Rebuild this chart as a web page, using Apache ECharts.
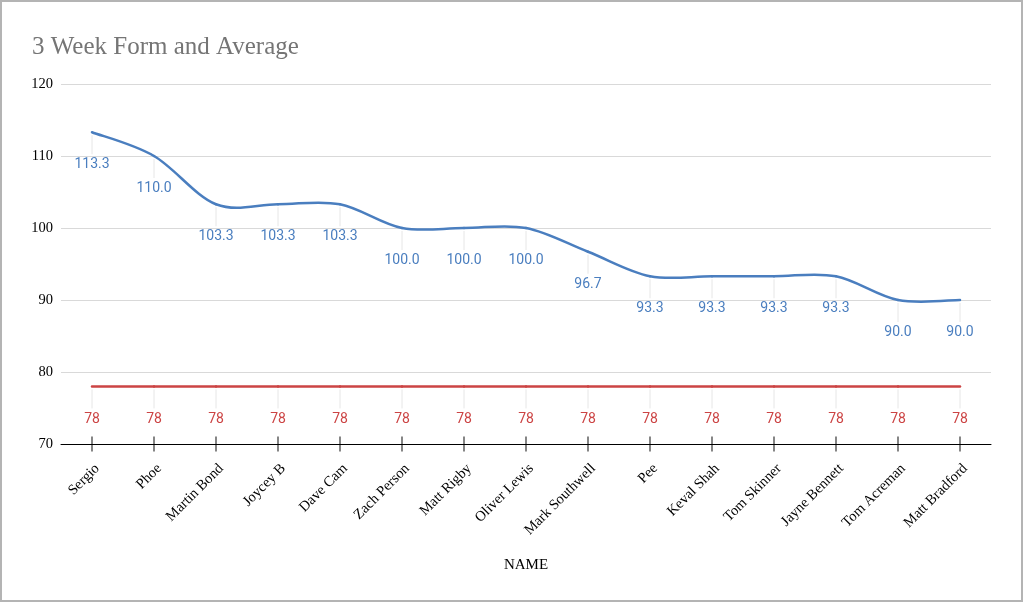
<!DOCTYPE html>
<html>
<head>
<meta charset="utf-8">
<script src="https://cdn.jsdelivr.net/npm/echarts@6/dist/echarts.min.js"></script>
<style>
html,body{margin:0;padding:0;background:#fff;}
#c{width:1024px;height:603px;}
</style>
</head>
<body>
<div id="c"></div>
<script>
const categories = ["Sergio","Phoe","Martin Bond","Joycey B","Dave Cam","Zach Person","Matt Rigby","Oliver Lewis","Mark Southwell","Pee","Keval Shah","Tom Skinner","Jayne Bennett","Tom Acreman","Matt Bradford"];
const formValues = [113.3,110.0,103.3,103.3,103.3,100.0,100.0,100.0,96.7,93.3,93.3,93.3,93.3,90.0,90.0];
const averageValues = [78,78,78,78,78,78,78,78,78,78,78,78,78,78,78];
const yTicks = {min:70, max:120, interval:10};

const blue = '#4a7ebf';
const red = '#cc4444';
const serif = '"Liberation Serif", "Times New Roman", serif';
const sans = 'Roboto, "Noto Sans", sans-serif';

// Catmull-Rom style smooth curve through the points, drawn via the axis scales
function smoothRender(values, color) {
  return function (params, api) {
    const i = params.dataIndex;
    const n = values.length;
    const p = k => api.coord([Math.max(0, Math.min(n - 1, k)), values[Math.max(0, Math.min(n - 1, k))]]);
    const p1 = p(i);
    const children = [{
      type: 'line',
      silent: true,
      shape: {x1: p1[0], y1: p1[1] + 3, x2: p1[0], y2: p1[1] + 22},
      style: {stroke: '#e6e6e6', lineWidth: 1},
      z2: 1
    }];
    if (i < n - 1) {
      const p0 = p(i - 1), p2 = p(i + 1), p3 = p(i + 2);
      children.push({
        type: 'bezierCurve',
        silent: true,
        shape: {
          x1: p1[0], y1: p1[1], x2: p2[0], y2: p2[1],
          cpx1: p1[0] + (p2[0] - p0[0]) / 6, cpy1: p1[1] + (p2[1] - p0[1]) / 6,
          cpx2: p2[0] - (p3[0] - p1[0]) / 6, cpy2: p2[1] - (p3[1] - p1[1]) / 6
        },
        style: {stroke: color, lineWidth: 2.5, fill: null, lineCap: 'round'},
        z2: 5
      });
    }
    return {type: 'group', children: children};
  };
}

const chart = echarts.init(document.getElementById('c'), null, {renderer:'canvas'});
chart.setOption({
  animation:false,
  backgroundColor:'#fff',
  title:{
    text:'3 Week Form and Average',
    left:27, top:30,
    textStyle:{fontFamily:serif, fontSize:25, fontWeight:'normal', color:'#757575'}
  },
  graphic:[{
    type:'rect', silent:true, z:-1,
    shape:{x:1,y:1,width:1021,height:600},
    style:{fill:null, stroke:'#b4b4b4', lineWidth:2}
  }],
  grid:{left:61, right:33, top:84, bottom:159, containLabel:false},
  xAxis:{
    type:'category',
    data:categories,
    boundaryGap:true,
    name:'NAME',
    nameLocation:'middle',
    nameGap:114,
    nameTextStyle:{fontFamily:serif, fontSize:15, color:'#000'},
    axisLine:{show:true, lineStyle:{color:'#000', width:1}},
    axisTick:{show:false},
    axisLabel:{rotate:45, interval:0, margin:17, verticalAlign:'top', fontFamily:serif, fontSize:14.5, color:'#000'},
    splitLine:{show:false}
  },
  yAxis:{
    type:'value',
    min:yTicks.min, max:yTicks.max, interval:yTicks.interval,
    axisLine:{show:false},
    axisTick:{show:false},
    axisLabel:{margin:8, fontFamily:serif, fontSize:14.5, color:'#000'},
    splitLine:{lineStyle:{color:'#d9d9d9', width:1}}
  },
  series:[
    {
      name:'FormCurve',
      type:'custom',
      coordinateSystem:'cartesian2d',
      data:formValues.map((v,i)=>[i,v]),
      renderItem:smoothRender(formValues, blue),
      silent:true,
      clip:false,
      z:3
    },
    {
      name:'AverageCurve',
      type:'custom',
      coordinateSystem:'cartesian2d',
      data:averageValues.map((v,i)=>[i,v]),
      renderItem:smoothRender(averageValues, red),
      silent:true,
      clip:false,
      z:3
    },
    {
      name:'Form',
      type:'line',
      data:formValues,
      symbol:'circle',
      symbolSize:1,
      showSymbol:true,
      lineStyle:{width:0, opacity:0},
      itemStyle:{color:blue},
      label:{show:true, position:'bottom', distance:25, color:blue, fontFamily:sans, fontSize:14,
        formatter:p=>p.value.toFixed(1)},
      z:4
    },
    {
      name:'Average',
      type:'line',
      data:averageValues,
      symbol:'circle',
      symbolSize:1,
      showSymbol:true,
      lineStyle:{width:0, opacity:0},
      itemStyle:{color:red},
      label:{show:true, position:'bottom', distance:26, color:red, fontFamily:sans, fontSize:14,
        formatter:p=>String(p.value)},
      z:4
    },
    {
      name:'ticks',
      type:'scatter',
      data:categories.map(()=>yTicks.min),
      symbol:'rect',
      symbolSize:[1.2,15],
      itemStyle:{color:'#000'},
      clip:false,
      silent:true,
      z:4
    }
  ]
});
</script>
</body>
</html>
